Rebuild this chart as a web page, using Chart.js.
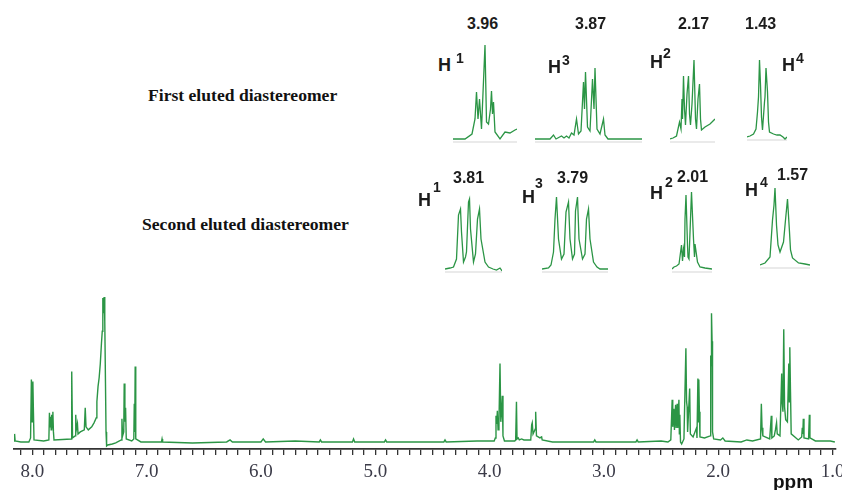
<!DOCTYPE html>
<html>
<head>
<meta charset="utf-8">
<script src="https://cdn.jsdelivr.net/npm/chart.js@4/dist/chart.umd.min.js"></script>
<style>
  body { margin: 0; background: #fff; }
  #wrap { position: relative; width: 842px; height: 490px; overflow: hidden; }
  canvas { position: absolute; }
  .t { position: absolute; white-space: nowrap; line-height: 1; }
  .title { font-family: "Liberation Serif", "Times New Roman", serif; font-weight: bold; font-size: 17.6px; color: #111; }
  .shift { font-family: "Liberation Sans", Arial, sans-serif; font-weight: bold; font-size: 16px; color: #1c1c1c; }
  .hh { font-family: "Liberation Sans", Arial, sans-serif; font-weight: bold; font-size: 18px; color: #1c1c1c; }
  .sup { font-family: "Liberation Sans", Arial, sans-serif; font-weight: bold; font-size: 14px; color: #1c1c1c; }
  .ppm { font-family: "Liberation Sans", Arial, sans-serif; font-weight: bold; font-size: 19px; color: #111; }
</style>
</head>
<body>
<div id="wrap">
  <canvas id="main" width="870" height="210" style="left:0;top:280px"></canvas>
</div>
<script>
// ---- main 1H spectrum (ppm, intensity) ----
const mainPpm = [8.16, 8.155, 8.15, 8.10, 8.03, 8.015, 8.008, 8.002, 7.995, 7.99, 7.985, 7.90,
  7.855, 7.85, 7.845, 7.84, 7.835, 7.83, 7.825, 7.82, 7.815, 7.81, 7.66, 7.655, 7.648,
  7.625, 7.62, 7.615, 7.605, 7.60, 7.58, 7.545, 7.537, 7.53, 7.51, 7.48, 7.46, 7.44, 7.435,
  7.425, 7.415, 7.405, 7.395, 7.388, 7.383, 7.378, 7.372, 7.366, 7.36, 7.355, 7.35, 7.34,
  7.30, 7.27, 7.222, 7.216, 7.21, 7.20, 7.196, 7.19, 7.184, 7.178, 7.13, 7.112, 7.108,
  7.104, 7.10, 7.095, 7.05, 6.87, 6.865, 6.86, 6.6, 6.3, 6.27, 6.25, 6.0, 5.98, 5.96,
  5.7, 5.49, 5.48, 5.47, 5.20, 5.19, 5.18, 4.92, 4.91, 4.90, 4.40, 4.39, 4.38, 4.11, 4.0, 3.96, 3.95, 3.944,
  3.938, 3.932, 3.926, 3.918, 3.909, 3.902, 3.895, 3.889, 3.883, 3.87, 3.78, 3.772,
  3.765, 3.76, 3.75, 3.74, 3.72, 3.70, 3.64, 3.632, 3.627, 3.62, 3.60, 3.597, 3.59, 3.56,
  3.545, 3.54, 3.45, 3.09, 3.08, 3.07, 2.72, 2.71, 2.70, 2.5, 2.44, 2.415, 2.403, 2.398, 2.388, 2.383,
  2.373, 2.368, 2.359, 2.354, 2.344, 2.34, 2.336, 2.33, 2.32, 2.30, 2.283, 2.277, 2.272,
  2.268, 2.25, 2.244, 2.22, 2.19, 2.186, 2.178, 2.174, 2.170, 2.165, 2.16, 2.12, 2.07,
  2.066, 2.063, 2.059, 2.054, 2.05, 2.04, 1.98, 1.96, 1.94, 1.80, 1.75, 1.70, 1.63,
  1.623, 1.617, 1.61, 1.55, 1.536, 1.531, 1.51, 1.50, 1.49, 1.484, 1.46, 1.445, 1.441,
  1.434, 1.427, 1.42, 1.41, 1.395, 1.383, 1.378, 1.374, 1.368, 1.362, 1.30, 1.27, 1.265,
  1.26, 1.256, 1.25, 1.21, 1.203, 1.198, 1.15, 1.02, 0.98];
const mainInt = [1, 8, 1, 0, 0, 4, 62, 20, 60, 30, 2, 1,
  2, 29, 15, 25, 12, 27, 14, 30, 10, 2, 3, 70, 4,
  6, 27, 12, 18, 8, 10, 12, 34, 15, 12, 15, 19, 24, 40,
  55, 64, 78, 98, 110, 143, 128, 144, 120, 60, 10, -4, -3,
  -2, -1, 2, 23, 6, 10, 58, 20, 34, 3, 1, 3, 38,
  10, 75, 3, 0, 0, 3, 0, -1, 0, 2, 0, 0, 3, 0,
  1, 0, 2, 0, 0, 3, 0, 0, 2, 0, 0, 2, 0, 1, 1, 1, 4, 26,
  18, 31, 12, 20, 78, 20, 30, 46, 6, 1, 1, 2,
  40, 3, 4, 2, 3, 2, 2, 17, 19, 8, 13, 30, 6, 4,
  5, 2, 0, 0, 2, 0, 0, 2, 0, 1, 0, 2, 42, 15, 33, 12,
  37, 14, 38, 14, 42, 8, 27, 0, -2, 3, 93, 40, 35,
  10, 53, 8, 5, 14, 4, 63, 20, 62, 30, 5, 4, 6,
  86, 76, 128, 100, 10, 3, 2, 4, 1, 0, 2, 1, 3,
  38, 14, 6, 3, 26, 4, 6, 12, 19, 8, 6, 68, 40,
  30, 112, 35, 22, 20, 78, 40, 94, 50, 8, 2, 5, 14,
  8, 23, 4, 3, 27, 4, 1, 1, 0];

// ---- x axis ----
const ppmMin = 0.97;
const ppmMax = 8.16;
const tickStep = 0.1;

// ---- inset multiplets, first eluted diastereomer ----
const h1FirstPpm = [4.024, 4.000, 3.986, 3.980, 3.977, 3.974, 3.971, 3.967, 3.962, 3.960, 3.957, 3.953, 3.949, 3.947, 3.945, 3.943, 3.940, 3.930, 3.920, 3.910, 3.900, 3.896];
const h1FirstInt = [0, 0, 5, 20, 47, 20, 40, 10, 70, 94, 17, 15, 30, 48, 25, 37, 7, 0, 7, 6, 9, 10];
const h3FirstPpm = [3.980, 3.950, 3.943, 3.938, 3.927, 3.922, 3.917, 3.912, 3.907, 3.902, 3.897, 3.893, 3.888, 3.883, 3.881, 3.879, 3.875, 3.870, 3.865, 3.862, 3.860, 3.856, 3.850, 3.843, 3.840, 3.834, 3.766];
const h3FirstInt = [0, 0, 4, 0, 3, 1, 3, 1, 6, 4, 20, 5, 8, 57, 30, 67, 12, 8, 60, 30, 71, 10, 5, 20, 4, 0, 0];
const h2FirstPpm = [2.214, 2.208, 2.201, 2.195, 2.192, 2.190, 2.189, 2.187, 2.185, 2.183, 2.180, 2.177, 2.175, 2.173, 2.170, 2.166, 2.163, 2.161, 2.158, 2.155, 2.153, 2.151, 2.144, 2.134, 2.124];
const h2FirstInt = [0, 1, 3, 17, 10, 40, 20, 63, 30, 14, 45, 63, 25, 14, 35, 79, 20, 10, 40, 55, 20, 9, 12, 15, 20];
const h4FirstPpm = [1.461, 1.455, 1.448, 1.443, 1.440, 1.438, 1.436, 1.434, 1.432, 1.430, 1.426, 1.425, 1.423, 1.420, 1.418, 1.416, 1.408, 1.401, 1.395, 1.389, 1.385, 1.381];
const h4FirstInt = [0, 1, 3, 8, 25, 40, 77, 52, 20, 7, 35, 40, 69, 45, 15, 5, 3, 2, 2, 0, -2, 0];

// ---- inset multiplets, second eluted diastereomer ----
const h1SecondPpm = [3.858, 3.848, 3.841, 3.835, 3.831, 3.827, 3.825, 3.821, 3.817, 3.815, 3.811, 3.809, 3.807, 3.801, 3.797, 3.793, 3.789, 3.786, 3.778, 3.771, 3.762, 3.755, 3.748, 3.744];
const h1SecondInt = [0, 1, 2, 10, 54, 60, 37, 7, 12, 17, 67, 70, 40, 7, 15, 50, 60, 30, 7, 2, 0, -1, 1, -2];
const h3SecondPpm = [3.851, 3.838, 3.833, 3.828, 3.825, 3.822, 3.818, 3.812, 3.807, 3.803, 3.798, 3.795, 3.790, 3.786, 3.784, 3.780, 3.777, 3.770, 3.765, 3.762, 3.758, 3.755, 3.748, 3.741, 3.735, 3.719];
const h3SecondInt = [0, 1, 4, 17, 50, 72, 30, 10, 15, 57, 67, 30, 10, 15, 58, 72, 30, 10, 15, 50, 60, 30, 7, 2, 0, 0];
const h2SecondPpm = [2.044, 2.040, 2.035, 2.030, 2.025, 2.023, 2.021, 2.019, 2.018, 2.016, 2.013, 2.012, 2.010, 2.007, 2.005, 2.001, 1.999, 1.998, 1.993, 1.988, 1.978, 1.964];
const h2SecondInt = [0, 2, 3, 5, 24, 8, 20, 12, 50, 74, 24, 12, 10, 50, 77, 30, 12, 25, 7, 2, 1, 0];
const h4SecondPpm = [1.613, 1.603, 1.593, 1.588, 1.585, 1.583, 1.580, 1.577, 1.573, 1.566, 1.562, 1.558, 1.554, 1.552, 1.548, 1.536, 1.523, 1.513];
const h4SecondInt = [0, 2, 8, 45, 60, 77, 40, 20, 13, 23, 45, 66, 33, 15, 7, 2, 1, 0];

const green = '#2b9545';
const grey = '#d6d6d6';

function toPoints(xs, ys) {
  return xs.map((x, i) => ({ x: x, y: ys[i] }));
}

// main spectrum (canvas a bit wider than the page so the 1.0 label gets cut like the original)
new Chart(document.getElementById('main'), {
  type: 'line',
  data: {
    datasets: [{
      data: toPoints(mainPpm, mainInt),
      borderColor: green,
      borderWidth: 1.4,
      pointRadius: 0,
      tension: 0
    }]
  },
  options: {
    responsive: false,
    animation: false,
    events: [],
    layout: { padding: { left: 14, right: 34, top: 11, bottom: 0 } },
    plugins: { legend: { display: false }, tooltip: { enabled: false } },
    scales: {
      x: {
        type: 'linear',
        reverse: true,
        min: ppmMin,
        max: ppmMax,
        afterFit: (scale) => { scale.height = 41; },
        grid: { drawOnChartArea: false, drawTicks: true, tickLength: 6, color: '#333', lineWidth: 1.3 },
        border: { display: true, color: '#333', width: 1.8 },
        ticks: {
          stepSize: tickStep,
          includeBounds: false,
          autoSkip: false,
          maxRotation: 0,
          padding: 6,
          color: '#3b3b48',
          font: { family: '"Liberation Serif", "Times New Roman", serif', size: 19 },
          callback: (v) => Math.abs(v - Math.round(v)) < 1e-6 ? v.toFixed(1) : ''
        }
      },
      y: { display: false, min: -7, max: 150 }
    }
  }
});

// inset boxes: left, top, width (canvas height fixed)
const insets = [
  { ppm: h1FirstPpm, int: h1FirstInt, left: 453, top: 33, width: 64 },
  { ppm: h3FirstPpm, int: h3FirstInt, left: 535, top: 33, width: 107 },
  { ppm: h2FirstPpm, int: h2FirstInt, left: 670, top: 33, width: 45 },
  { ppm: h4FirstPpm, int: h4FirstInt, left: 747, top: 31, width: 40 },
  { ppm: h1SecondPpm, int: h1SecondInt, left: 445, top: 163, width: 57 },
  { ppm: h3SecondPpm, int: h3SecondInt, left: 542, top: 163, width: 66 },
  { ppm: h2SecondPpm, int: h2SecondInt, left: 672, top: 163, width: 40 },
  { ppm: h4SecondPpm, int: h4SecondInt, left: 760, top: 159, width: 50 }
];

const wrap = document.getElementById('wrap');
insets.forEach((box) => {
  const c = document.createElement('canvas');
  c.width = box.width;
  c.height = 112;
  c.style.left = box.left + 'px';
  c.style.top = box.top + 'px';
  wrap.appendChild(c);
  const lo = Math.min(...box.ppm), hi = Math.max(...box.ppm);
  new Chart(c, {
    type: 'line',
    data: {
      datasets: [{
        data: toPoints(box.ppm, box.int),
        borderColor: green,
        borderWidth: 1.3,
        pointRadius: 0,
        tension: 0
      }, {
        data: [{ x: hi, y: -3 }, { x: lo, y: -3 }],
        borderColor: grey,
        borderWidth: 1.2,
        pointRadius: 0
      }]
    },
    options: {
      responsive: false,
      animation: false,
      events: [],
      layout: { padding: 0 },
      plugins: { legend: { display: false }, tooltip: { enabled: false } },
      scales: {
        x: { type: 'linear', display: false, reverse: true, min: lo, max: hi },
        y: { display: false, min: -6, max: 106 }
      }
    }
  });
});

// text labels
const labels = [
  ['title', 'First eluted diastereomer', 148, 87],
  ['title', 'Second eluted diastereomer', 142, 216],
  ['shift', '3.96', 467, 16], ['shift', '3.87', 575, 16], ['shift', '2.17', 678, 16], ['shift', '1.43', 745, 16],
  ['shift', '3.81', 453, 170], ['shift', '3.79', 557, 170], ['shift', '2.01', 677, 169], ['shift', '1.57', 777, 167],
  ['hh', 'H', 438, 56], ['sup', '1', 456, 51],
  ['hh', 'H', 548, 58], ['sup', '3', 562, 53],
  ['hh', 'H', 650, 53], ['sup', '2', 663, 46],
  ['hh', 'H', 782, 56], ['sup', '4', 796, 51],
  ['hh', 'H', 418, 191], ['sup', '1', 433, 180],
  ['hh', 'H', 522, 188], ['sup', '3', 535, 176],
  ['hh', 'H', 650, 184], ['sup', '2', 665, 175],
  ['hh', 'H', 745, 181], ['sup', '4', 760, 175],
  ['ppm', 'ppm', 773, 472]
];
labels.forEach(([cls, txt, x, y]) => {
  const d = document.createElement('div');
  d.className = 't ' + cls;
  d.textContent = txt;
  d.style.left = x + 'px';
  d.style.top = y + 'px';
  wrap.appendChild(d);
});
</script>
</body>
</html>
